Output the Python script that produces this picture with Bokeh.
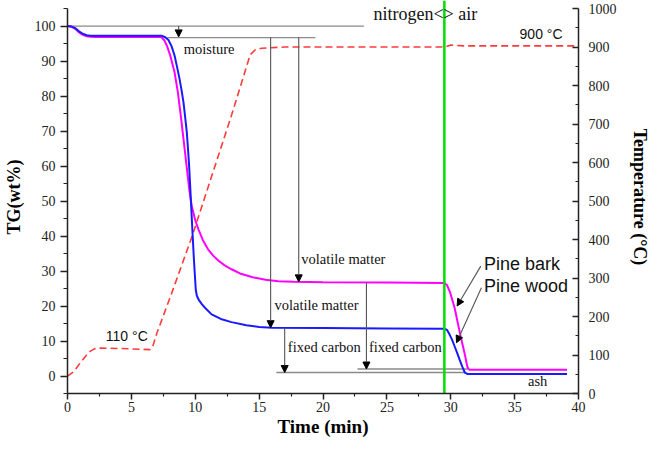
from bokeh.plotting import figure
from bokeh.models import (Range1d, LinearAxis, FixedTicker, Label, Arrow,
                          NormalHead, ColumnDataSource)
from bokeh.embed import file_html
from bokeh.resources import INLINE

# ---------------- data ----------------
# Pine wood TG (wt%)
wood_t = [0, 0.3, 0.6, 0.9, 1.2, 1.5, 1.8, 2.2, 3, 5, 7.4, 7.65, 7.9, 8.15, 8.38,
          8.57, 8.77, 8.93, 9.08, 9.21, 9.34, 9.43, 9.52, 9.6, 9.77, 9.9, 10.04,
          10.12, 10.25, 10.5, 10.76, 11.28, 12.0, 12.84, 14, 15, 16, 20, 25, 29.5,
          29.7, 29.9, 30.1, 30.3, 30.5, 30.7, 30.9, 31.1, 31.3, 35, 39.1]
wood_tg = [100, 99.9, 99.4, 98.5, 97.8, 97.4, 97.25, 97.2, 97.2, 97.2, 97.2, 96.8,
           96.0, 94.2, 91.6, 88.4, 84.9, 81.6, 78.2, 74.0, 69.6, 65.0, 60.1, 54.5,
           42.0, 33.0, 24.7, 23.0, 21.9, 20.6, 19.5, 17.6, 16.3, 15.4, 14.5, 14.0,
           13.8, 13.7, 13.6, 13.5, 13.2, 11.9, 10.4, 8.5, 6.6, 4.6, 2.7, 1.0, 0.6,
           0.6, 0.6]

# Pine bark TG (wt%)
bark_t = [0, 0.3, 0.6, 0.9, 1.2, 1.5, 1.8, 2.2, 3, 5, 7.2, 7.39, 7.6, 7.8, 8.04, 8.2,
          8.38, 8.64, 8.9, 9.2, 9.4, 9.55, 9.65, 9.73, 10.0, 10.25, 10.6, 11.0, 11.4,
          11.8, 12.3, 12.84, 13.5, 14.5, 15.5, 16.5, 17.7, 20, 25, 29.5, 29.7, 29.96,
          30.3, 30.74, 31.1, 31.3, 31.45, 35, 39.1]
bark_tg = [100, 99.8, 99.2, 98.2, 97.5, 97.1, 96.95, 96.9, 96.9, 96.9, 96.9, 96.7,
           95.8, 94.2, 91.6, 89.4, 86.8, 81.1, 73.4, 63.9, 57.5, 52.8, 50.3, 48.5,
           44.5, 41.9, 38.8, 36.2, 34.4, 33.0, 31.6, 30.5, 29.3, 28.2, 27.5, 27.1,
           26.9, 26.8, 26.7, 26.6, 26.0, 23.8, 19.5, 11.9, 6.2, 2.6, 1.8, 1.8, 1.8]

# Furnace temperature (deg C, right axis)
temp_t = [0, 0.5, 1.0, 1.5, 1.8, 2.1, 2.5, 4, 6.5, 6.7, 7.0, 8.17, 9.76, 12.9, 14.3,
          14.7, 15.2, 15.8, 17, 29.5, 30, 31, 40]
temp_c = [45, 57, 80, 100, 110, 116, 118, 117, 114, 125, 157, 262, 409, 729, 880,
          893, 897, 898, 900, 900, 905, 903, 903]

switch_time = 29.5  # nitrogen -> air

x_ticks = [0, 5, 10, 15, 20, 25, 30, 35, 40]
x_minor = [2.5, 7.5, 12.5, 17.5, 22.5, 27.5, 32.5, 37.5]
y_ticks = [0, 10, 20, 30, 40, 50, 60, 70, 80, 90, 100]
y_minor = [-5, 5, 15, 25, 35, 45, 55, 65, 75, 85, 95, 105]
t_ticks = [0, 100, 200, 300, 400, 500, 600, 700, 800, 900, 1000]
t_minor = [50, 150, 250, 350, 450, 550, 650, 750, 850, 950]

# guide lines (x0, x1, y)
guide_x0 = [0, 7.8, 16.35, 22.7]
guide_x1 = [23.2, 19.4, 31.2, 31.4]
guide_y = [100, 96.7, 1.0, 2.0]

# annotation arrows (start -> end)
arr_x0 = [8.7, 15.9, 18.1, 17.0, 23.4, 32.35, 32.4]
arr_y0 = [100, 96.7, 96.7, 13.7, 26.7, 31.4, 25.2]
arr_x1 = [8.7, 15.9, 18.1, 17.0, 23.4, 30.5, 30.45]
arr_y1 = [96.9, 13.8, 26.9, 1.0, 2.0, 20.0, 9.5]

# ---------------- figure ----------------
SERIF = "Liberation Serif"
SANS = "Liberation Sans"

Y_LO, Y_HI, Y_TOP = -5, 105, 107.3          # left axis span and frame top
T_PER_Y = 1000 / (Y_HI - Y_LO)              # right axis units per left unit

p = figure(width=652, height=441, x_range=Range1d(0, 40),
           y_range=Range1d(Y_LO, Y_TOP),
           output_backend="svg", toolbar_location=None,
           min_border_left=67, min_border_right=71, min_border_top=0,
           min_border_bottom=48)
p.extra_y_ranges = {"temp": Range1d(0, (Y_TOP - Y_LO) * T_PER_Y)}
p.outline_line_color = None
p.xgrid.visible = False
p.ygrid.visible = False
p.background_fill_color = "white"

# guide lines
p.segment(x0=guide_x0, x1=guide_x1, y0=guide_y, y1=guide_y,
          line_color="#8a8a8a", line_width=1.3)

# temperature curve
p.line(temp_t, temp_c, y_range_name="temp", line_color="#ff3b3b", line_width=1.6,
       line_dash="7 4")

# TG curves
p.line(bark_t, bark_tg, line_color="#ff00ff", line_width=2)
p.line(wood_t, wood_tg, line_color="#1a1aff", line_width=2)

# arrows
src = ColumnDataSource(dict(x0=arr_x0, y0=arr_y0, x1=arr_x1, y1=arr_y1))
p.add_layout(Arrow(end=NormalHead(size=7, fill_color="black", line_color="black"),
                   x_start="x0", y_start="y0", x_end="x1", y_end="y1", source=src,
                   line_color="#555555", line_width=1.1))

# nitrogen/air switch line
p.segment(x0=[switch_time], x1=[switch_time], y0=[Y_LO], y1=[Y_TOP],
          line_color="#00dd00", line_width=2.5)

# axes styling
def style_axis(ax):
    ax.axis_line_color = "#222222"
    ax.axis_line_width = 1.5
    ax.major_tick_line_color = "#222222"
    ax.minor_tick_line_color = "#222222"
    ax.major_tick_line_width = 1.5
    ax.minor_tick_line_width = 1.2
    ax.major_label_text_font = SERIF
    ax.major_label_text_font_size = "14px"
    ax.major_label_text_color = "#222222"
    ax.axis_label_text_font = SERIF
    ax.axis_label_text_font_style = "bold"
    ax.axis_label_text_font_size = "19px"
    ax.axis_label_text_color = "black"

xa = p.xaxis[0]
xa.ticker = FixedTicker(ticks=x_ticks, minor_ticks=x_minor)
xa.axis_label = "Time (min)"
style_axis(xa)
xa.major_tick_out = 6
xa.major_tick_in = 0
xa.minor_tick_out = 3
xa.minor_tick_in = 0
xa.major_label_standoff = 2
xa.axis_label_standoff = 1

ya = p.yaxis[0]
ya.ticker = FixedTicker(ticks=y_ticks, minor_ticks=y_minor)
ya.bounds = (Y_LO, Y_HI)
ya.axis_label = "TG(wt%)"
style_axis(ya)
ya.axis_label_text_font_size = "18px"
ya.major_tick_out = 7
ya.major_tick_in = 0
ya.minor_tick_out = 4
ya.minor_tick_in = 0
ya.major_label_standoff = 5
ya.axis_label_standoff = 8

ra = LinearAxis(y_range_name="temp", axis_label="Temperature (°C)",
                ticker=FixedTicker(ticks=t_ticks, minor_ticks=t_minor),
                bounds=(0, 1000))
style_axis(ra)
ra.axis_label_text_font_size = "18px"
ra.major_tick_out = 0
ra.major_tick_in = 6
ra.minor_tick_out = 0
ra.minor_tick_in = 3
ra.major_label_standoff = 10
ra.axis_label_standoff = 10
p.add_layout(ra, "right")

# texts
def lab(x, y, text, font, size, align="left", baseline="middle", style="normal"):
    p.add_layout(Label(x=x, y=y, text=text, text_font=font, text_font_size=size,
                       text_align=align, text_baseline=baseline,
                       text_font_style=style, text_color="#111111"))

lab(9.1, 93.5, "moisture", SERIF, "14.5px")
lab(18.3, 33.3, "volatile matter", SERIF, "14.5px")
lab(16.2, 20.4, "volatile matter", SERIF, "14.5px")
lab(17.25, 8.3, "fixed carbon", SERIF, "14.5px")
lab(23.6, 8.3, "fixed carbon", SERIF, "14.5px")
lab(36.8, -1.5, "ash", SERIF, "14.5px", align="center")
lab(23.95, 103.5, "nitrogen<> air", SERIF, "18px")
lab(38.75, 97.8, "900 °C", SANS, "14px", align="right")
lab(3.0, 11.5, "110 °C", SANS, "14px")
lab(32.6, 31.9, "Pine bark", SANS, "18px")
lab(32.6, 25.7, "Pine wood", SANS, "18px")

open("out.html", "w").write(file_html(p, INLINE))
